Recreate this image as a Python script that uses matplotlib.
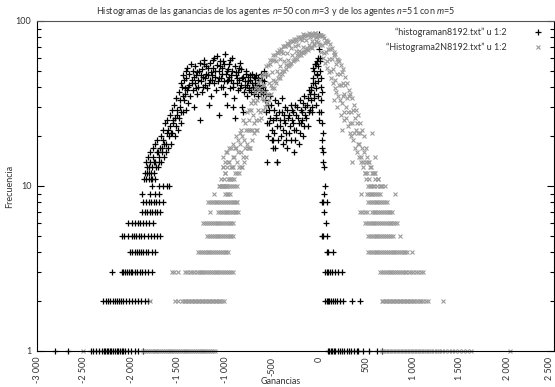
import matplotlib
matplotlib.use("Agg")
import matplotlib.pyplot as plt
from matplotlib.ticker import LogLocator, NullFormatter, FixedLocator

plt.rcParams['font.family'] = ['Lato', 'DejaVu Sans']
plt.rcParams['mathtext.fontset'] = 'custom'
plt.rcParams['mathtext.it'] = 'Lato:italic'
plt.rcParams['mathtext.rm'] = 'Lato'

# ---------------------------------------------------------------- data
# histograman8192.txt (n=50, m=3): rows of low counts, then the upper cloud
n50_row_counts = [1, 2, 3, 4, 5, 6, 7, 8, 9, 10, 11]
n50_row_x = [
    [-2810, -2665, -2425, -2400, -2370, -2340, -2310, -2290, -2275, -2260, -2240,
     -2225, -2210, -2190, -2170, -2150, -2135, -2120, -2100, -2085, -2060, -2035,
     -2005, -1960, -1930, -1875, 95, 110, 125, 140, 160, 175, 200, 225, 245, 270,
     300, 320, 345, 375, 400, 420, 470, 534, 612, 667],
    [-2295, -2270, -2245, -2220, -2195, -2170, -2150, -2130, -2105, -2080, -2050,
     -2020, -1990, -1955, -1925, -1890, -1850, -1815, 64, 80, 95, 110, 125, 150,
     175, 195, 225, 260, 348, 437],
    [-2205, -2100, -2080, -2060, -2045, -2025, -2005, -1985, -1960, -1935, -1905,
     -1880, -1850, -1820, -1780, 64, 80, 95, 120, 140, 170, 205, 242],
    [-2010, -1985, -1960, -1935, -1915, -1895, -1870, -1845, -1815, -1780, -1745,
     82, 95, 153],
    [-2099, -2070, -2030, -1985, -1965, -1945, -1920, -1890, -1860, -1820, -1790,
     -1755, -1720, -1691, 29, 45, 82],
    [-2032, -1990, -1960, -1930, -1900, -1870, -1840, -1810, -1766, 75],
    [-1886, -1855, -1830, -1800, -1775, -1745, -1720, -1691, 54],
    [-1872, -1845, -1805, -1785, -1760, -1730, -1700, -1659, 29, 45, 82],
    [-1886, -1798, -1745, -1699, 54],
    [-1776, -1700, -1660, -1620, -1600, 64],
    [-1865, -1810, -1780, -1745],
]
n50_cloud_x = [
    # rising flank
    -1850, -1838, -1826, -1812, -1800, -1788, -1776, -1764, -1752, -1740, -1728,
    -1716, -1704, -1692, -1680, -1668, -1656, -1644, -1632, -1620, -1608, -1596,
    -1584, -1572, -1560, -1548, -1536, -1524, -1512, -1500, -1488, -1476, -1464,
    -1452, -1440, -1470, -1445, -1410,
    -1845, -1832, -1818, -1806, -1794, -1782, -1770, -1758, -1746, -1734, -1722,
    -1710, -1698, -1686, -1674, -1662, -1650, -1638, -1626, -1614, -1602, -1590,
    -1578, -1566, -1554, -1542, -1530, -1518, -1506, -1494, -1482, -1470, -1458,
    -1446, -1434, -1422,
    # main hump
    -1428, -1416, -1404, -1392, -1380, -1368, -1356, -1344, -1332, -1320, -1308,
    -1296, -1284, -1272, -1260, -1248, -1236, -1224, -1212, -1200, -1188, -1176,
    -1164, -1152, -1140, -1128, -1116, -1104, -1092, -1080, -1068, -1056, -1044,
    -1032, -1020, -1008, -996, -984, -972, -960, -948, -936, -924, -912, -900,
    -888, -876, -864, -852, -840, -828, -816, -804, -792, -780, -768, -756, -744,
    -732, -720, -708, -696, -684, -672, -660, -648, -636, -624, -612, -600, -588,
    -560, -1266, -1170, -1064, -978, -893, -915, -808, -1000,
    -1414, -1402, -1390, -1378, -1366, -1354, -1342, -1330, -1318, -1306, -1294,
    -1282, -1270, -1258, -1246, -1234, -1222, -1210, -1198, -1186, -1174, -1162,
    -1150, -1138, -1126, -1114, -1102, -1090, -1078, -1066, -1054, -1042, -1030,
    -1018, -1006, -994, -982, -970, -958, -946, -934, -922, -910, -898, -886,
    -874, -862, -850, -838, -826, -814, -802, -790, -778, -766, -754, -742, -730,
    -718, -706, -694, -682, -670, -658, -646, -634, -622, -610, -598, -586, -574,
    # dip between the hump and zero
    -576, -564, -552, -540, -528, -516, -504, -492, -480, -468, -456, -444, -432,
    -420, -408, -396, -384, -372, -360, -348, -336, -324, -312, -300, -288, -276,
    -264, -252, -240, -228, -216, -204, -192, -180, -168, -156, -144, -132, -120,
    -108, -96, -446, -500, -489,
    -566, -554, -542, -530, -518, -506, -494, -482, -470, -458, -446, -434, -422,
    -410, -398, -386, -374, -362, -350, -338, -326, -314, -302, -290, -278, -266,
    -254, -242, -230, -218, -206, -194, -182, -170, -158, -146, -134, -122, -110,
    -98,
    # rise to the peak at zero
    -90, -80, -72, -64, -56, -48, -40, -32, -24, -16, -15, -8, -4, 0,
    -86, -76, -68, -60, -52, -44, -36, -28, -20, -12, -6, 4, 10, 16, 24, 32, 36,
    2, 8, 14, 20, 26, 30, 34, 38, 42, 46, 50,
]
n50_cloud_y = [
    12, 11, 13, 12, 14, 11, 13, 15, 12, 14, 16,
    13, 15, 17, 14, 16, 19, 15, 18, 21, 17, 20,
    23, 18, 21, 25, 20, 23, 27, 22, 26, 30, 24,
    28, 33, 42, 47, 50,
    14, 12, 15, 13, 16, 12, 17, 14, 18, 13, 19,
    16, 14, 20, 17, 22, 18, 24, 16, 25, 22, 27,
    21, 29, 24, 31, 26, 34, 29, 37, 33, 28, 40,
    35, 44, 39,
    36, 29, 38, 32, 41, 35, 44, 38, 30, 42, 47,
    36, 40, 50, 43, 37, 46, 55, 41, 48, 39, 52,
    44, 35, 47, 58, 42, 50, 38, 61, 45, 53, 40,
    48, 57, 43, 36, 50, 44, 55, 39, 47, 60, 42, 34,
    49, 45, 38, 52, 56, 41, 30, 46, 40, 48, 35, 43, 39,
    47, 37, 42, 36, 45, 38, 41, 35, 44, 39, 48, 36, 50,
    47, 25, 31, 27, 31, 26, 30, 28, 63,
    45, 52, 40, 48, 55, 42, 50, 46, 53, 39, 49,
    44, 56, 47, 51, 40, 58, 45, 53, 47, 42, 56,
    49, 44, 52, 60, 46, 54, 43, 50, 57, 45, 52,
    40, 55, 48, 43, 51, 46, 58, 44, 50, 40, 53, 47,
    42, 49, 44, 39, 51, 45, 37, 43, 50, 41, 46, 38, 44,
    48, 40, 46, 42, 47, 39, 45, 41, 37, 44, 40, 43, 38,
    33, 28, 14, 31, 24, 35, 22, 19, 29, 17, 26, 14, 32,
    23, 20, 28, 18, 25, 30, 21, 17, 27, 23, 19, 29, 24,
    16, 31, 22, 26, 18, 33, 24, 28, 20, 35, 27, 31, 23,
    38, 29, 14, 19, 17,
    36, 24, 20, 29, 26, 31, 25, 21, 33, 27, 23, 19, 28,
    25, 34, 22, 27, 24, 19, 29, 26, 21, 31, 25, 28, 22,
    19, 27, 30, 24, 21, 29, 25, 32, 23, 30, 26, 34, 28,
    36,
    33, 40, 28, 45, 36, 50, 42, 31, 47, 57, 43, 35, 28, 25,
    38, 30, 52, 42, 34, 55, 39, 55, 48, 60, 53, 68, 50, 33, 28, 19, 17,
    83, 60, 57, 45, 40, 37, 24, 21, 16, 14, 13,
]

# Histograma2N8192.txt (n=51, m=5): rows of low counts, then the upper cloud
n51_row_counts = [1, 2, 3, 4, 5, 6, 7, 8, 9, 10]
n51_row_x = [
    [-2511, -1873, -1850, -1830, -1810, -1790, -1770, -1750, -1730, -1710, -1690,
     -1670, -1650, -1630, -1610, -1590, -1570, -1550, -1530, -1510, -1490, -1470,
     -1450, -1430, -1410, -1390, -1370, -1350, -1330, -1310, -1290, -1270, -1250,
     -1230, -1210, -1190, -1170, -1150, -1125, -1102,
     667, 690, 715, 740, 765, 790, 815, 840, 865, 890, 915, 940, 965, 990, 1015,
     1040, 1065, 1090, 1115, 1140, 1165, 1190, 1220, 1250, 1280, 1310, 1345, 1380,
     1410, 1450, 1490, 1530, 1570, 1620, 2030],
    [-1797, -1530, -1497, -1453, -1440, -1425, -1410, -1395, -1380, -1365, -1350,
     -1335, -1320, -1305, -1290, -1275, -1260, -1245, -1230, -1215, -1200, -1185,
     -1170, -1155, -1140, -1125, -1110, -1095, -1080, -1065, -1050, -1030, -1014,
     667, 682, 697, 712, 727, 742, 757, 772, 787, 802, 817, 832, 847, 862, 877,
     892, 907, 922, 937, 952, 967, 982, 997, 1012, 1030, 1050, 1070, 1090, 1110,
     1135, 1163, 1320],
    [-1564, -1540, -1500, -1425, -1400, -1375, -1350, -1325, -1300, -1280, -1260,
     -1240, -1220, -1200, -1180, -1160, -1140, -1120, -1100, -1080, -1060, -1040,
     -1020, -1000, -980, -960, -940, -915,
     650, 670, 690, 710, 730, 750, 770, 790, 810, 830, 850, 870, 890, 910, 930,
     955, 980, 1005, 1030, 1055, 1080, 1107],
    [-1287, -1265, -1245, -1225, -1205, -1185, -1165, -1145, -1125, -1105, -1085,
     -1065, -1045, -1025, -1005, -985, -968,
     522, 542, 562, 582, 602, 622, 642, 662, 682, 702, 722, 742, 762, 782, 802,
     822, 842, 862, 882, 902, 918, 934, 987],
    [-1191, -1170, -1150, -1130, -1110, -1090, -1070, -1050, -1030, -1010, -990,
     -970, -950, -932, -915,
     522, 542, 562, 582, 602, 622, 642, 662, 682, 702, 722, 742, 762, 788, 862],
    [-1234, -1210, -1190, -1170, -1150, -1130, -1110, -1090, -1070, -1050, -1030,
     -1010, -990, -970, -950, -932, -915,
     490, 510, 530, 550, 570, 590, 610, 630, 650, 670, 690, 710, 730, 750, 770,
     790, 808, 827],
    [-1159, -1074, -1054, -1034, -1014, -994, -974, -954, -934, -914, -894, -878,
     -861, 437, 460, 485, 508, 561, 581, 601, 621, 641, 661, 681, 701, 721, 741,
     758, 774],
    [-1180, -1160, -1140, -1120, -1100, -1080, -1060, -1040, -1020, -1000, -980,
     -960, -940, -920, -900, -886, -872,
     522, 542, 562, 582, 602, 622, 642, 662, 682, 702, 724],
    [-1117, -1000, -982, -964, -946, 444, 508, 528, 548, 568, 590, 610, 630, 650,
     809],
    [-1067, -1050, -1030, -1010, -990, -960, -935, -910, -890, -872],
]
n51_cloud_x = [
    # left flank
    -1040, -1030, -1020, -1010, -1000, -990, -980, -970, -960, -950, -940, -930,
    -920, -910, -900, -890, -880, -870, -860, -850, -840, -830, -820, -810, -800,
    -790, -780, -770, -760, -750, -740, -730, -720, -710, -700, -690, -680, -670,
    -660, -650, -640, -630, -620, -610, -600, -590, -580, -570, -560, -550, -540,
    -530, -520, -510, -500, -490, -480, -470, -460, -450, -440, -430, -420, -410,
    -400, -390, -380, -370, -360, -350, -340, -330, -320, -310, -300, -290, -280,
    -270, -260, -250, -240, -230, -220, -210, -200, -190, -180, -170, -160, -150,
    -140, -130, -120, -110, -100, -90, -80, -70, -60, -50, -40, -30, -20, -10,
    -978, -1022,
    -1035, -1025, -1015, -1005, -995, -985, -975, -965, -955, -945, -935, -925,
    -915, -905, -895, -885, -875, -865, -855, -845, -835, -825, -815, -805, -795,
    -785, -775, -765, -755, -745, -735, -725, -715, -705, -695, -685, -675, -665,
    -655, -645, -635, -625, -615, -605, -595, -585, -575, -565, -555, -545, -535,
    -525, -515, -505, -495, -485, -475, -465, -455, -445, -435, -425, -415, -405,
    -395, -385, -375, -365, -355, -345, -335, -325, -315, -305, -295, -285, -275,
    -265, -255, -245, -235, -225, -215, -205, -195, -185, -175, -165, -155, -145,
    -135, -125, -115, -105, -95, -85, -75, -65, -55, -45, -35, -25, -15, -5,
    # right flank
    0, 10, 20, 30, 40, 50, 60, 70, 80, 90, 100, 110, 120, 130, 140, 150, 160,
    170, 180, 190, 200, 210, 220, 230, 240, 250, 260, 270, 280, 290, 300, 310,
    320, 330, 340, 350, 360, 370, 380, 390, 400, 410, 420, 430, 440, 450, 460,
    470, 480, 490, 500, 510, 520, 530, 540, 550, 560, 570, 580, 590, 600, 615,
    630, 650, 670, 700,
    245, 565, 352, 597, 160, 195, 230, 270,
    5, 15, 25, 35, 45, 55, 65, 75, 85, 95, 105, 115, 125, 135, 145, 155, 165,
    175, 185, 195, 205, 215, 225, 235, 245, 255, 265, 275, 285, 295, 305, 315,
    325, 335, 345, 355, 365, 375, 385, 395, 405, 415, 425, 435, 445, 455, 465,
    475, 485, 495, 505, 515, 525, 535, 545, 555, 575, 595, 625, 660,
]
n51_cloud_y = [
    11, 10, 13, 11, 12, 10, 13, 11, 14, 11, 13, 11,
    15, 13, 15, 12, 17, 14, 16, 13, 18, 16, 20, 15, 19,
    17, 22, 18, 22, 17, 25, 22, 29, 22, 27, 24, 32, 25,
    33, 29, 39, 28, 37, 34, 41, 33, 41, 37, 48, 36, 47,
    42, 55, 41, 49, 44, 58, 43, 57, 50, 64, 48, 59, 53,
    65, 50, 64, 57, 71, 54, 64, 58, 72, 55, 69, 62, 76,
    58, 71, 66, 76, 62, 72, 66, 78, 65, 77, 70, 81, 66,
    77, 69, 82, 72, 80, 70, 83, 76, 81, 73, 84, 80, 80, 82,
    16, 13,
    10, 15, 10, 14, 12, 16, 10, 14, 17, 11, 17, 13,
    18, 11, 17, 20, 12, 19, 12, 21, 13, 22, 13, 25, 14,
    24, 15, 28, 17, 29, 17, 32, 19, 33, 21, 37, 22, 39,
    22, 42, 25, 44, 26, 47, 29, 48, 30, 53, 32, 54, 33,
    58, 36, 58, 39, 62, 39, 62, 42, 65, 45, 67, 45, 68,
    48, 71, 50, 71, 51, 74, 53, 73, 54, 76, 56, 76, 57,
    78, 59, 78, 59, 80, 62, 80, 62, 80, 64, 83, 65, 82,
    68, 82, 67, 84, 70, 83, 69, 83, 72, 84, 76, 82, 75, 82,
    82, 72, 82, 72, 81, 64, 74, 65, 76, 57, 68, 59, 68, 50, 59, 51, 62,
    44, 55, 48, 58, 41, 48, 41, 49, 35, 42, 36, 41, 30, 34, 28,
    35, 24, 28, 24, 29, 21, 26, 22, 24, 18, 21, 18, 21, 15, 17,
    14, 16, 12, 14, 12, 14, 11, 13, 10, 12, 10, 12, 10, 11, 10,
    11, 10, 10, 10,
    22, 21, 14, 15, 33, 30, 27, 25,
    73, 82, 65, 81, 60, 79, 56, 77, 52, 75, 49, 73, 45, 69, 42, 65, 39,
    63, 37, 59, 35, 57, 33, 54, 32, 51, 28, 46, 26, 42, 23, 38,
    21, 36, 20, 34, 19, 31, 17, 29, 16, 27, 15, 24, 14, 22, 13,
    20, 12, 17, 11, 15, 10, 14, 10, 13, 12, 12, 11, 10,
]

x_ticks = [-3000, -2500, -2000, -1500, -1000, -500, 0, 500, 1000, 1500, 2000, 2500]
x_tick_labels = ["-3 000", "-2 500", "-2 000", "-1 500", "-1 000", "-500", "0",
                 "500", "1 000", "1 500", "2 000", "2 500"]
y_ticks = [1, 10, 100]
y_tick_labels = ["1", "10", "100"]

label_n50 = "\u201chistograman8192.txt\u201d u 1:2"
label_n51 = "\u201cHistograma2N8192.txt\u201d u 1:2"

# ---------------------------------------------------------------- assemble points
def flatten(counts, rows, cloud_x, cloud_y):
    xs, ys = [], []
    for c, row in zip(counts, rows):
        xs.extend(row)
        ys.extend([c] * len(row))
    xs.extend(cloud_x)
    ys.extend(cloud_y)
    return xs, ys

bx, by = flatten(n50_row_counts, n50_row_x, n50_cloud_x, n50_cloud_y)
gx, gy = flatten(n51_row_counts, n51_row_x, n51_cloud_x, n51_cloud_y)

# ---------------------------------------------------------------- figure
W, H = 555, 387
FS = 6.5
fig = plt.figure(figsize=(W / 100, H / 100), dpi=100)
ax = fig.add_axes([37 / W, 1 - 351 / H, (554 - 37) / W, (351 - 21) / H])

ax.plot(bx, by, linestyle="none", marker="+", ms=4.0, mew=0.9, color="black",
        clip_on=False, label=label_n50)
ax.plot(gx, gy, linestyle="none", marker="x", ms=3.0, mew=0.8, color="#9a9a9a",
        clip_on=False, label=label_n51)

ax.set_yscale("log")
ax.set_xlim(-3000, 2500)
ax.set_ylim(1, 100)

ax.set_xticks(x_ticks)
ax.set_xticklabels(x_tick_labels, rotation=90, fontsize=FS, color="#333333")
ax.get_xticklabels()[-1].set_horizontalalignment("right")
ax.tick_params(axis="x", length=0, pad=4)

ax.yaxis.set_major_locator(FixedLocator(y_ticks))
ax.set_yticklabels(y_tick_labels, fontsize=FS, color="#333333")
ax.yaxis.set_minor_locator(LogLocator(base=10, subs=range(2, 10)))
ax.yaxis.set_minor_formatter(NullFormatter())
ax.tick_params(axis="y", which="major", direction="in", length=5, width=0.8,
               right=True, pad=4)
ax.tick_params(axis="y", which="minor", direction="in", length=3, width=0.8,
               right=True)

for s in ax.spines.values():
    s.set_linewidth(0.8)
ax.spines["top"].set_color("#555555")

# key: right-justified text, sample to its right
leg = fig.legend(loc="upper right", bbox_to_anchor=(546 / W, 1 - 24 / H),
                 frameon=False, markerfirst=False, fontsize=FS,
                 handlelength=1.0, handletextpad=3.0, labelspacing=0.65,
                 borderaxespad=0.0, borderpad=0.4)
for t in leg.get_texts():
    t.set_color("#333333")

fig.text(276 / W, 1 - 12 / H,
         "Histogramas de las ganancias de los agentes $n$=50 con $m$=3 "
         "y de los agentes $n$=51 con $m$=5",
         ha="center", va="center", fontsize=FS, color="#333333")
fig.text(281 / W, 1 - 381 / H, "Ganancias", ha="center", va="center",
         fontsize=FS, color="#333333")
fig.text(10 / W, 1 - 186 / H, "Frecuencia", ha="center", va="center",
         rotation=90, fontsize=FS, color="#333333")

fig.savefig("out.png", dpi=100)
